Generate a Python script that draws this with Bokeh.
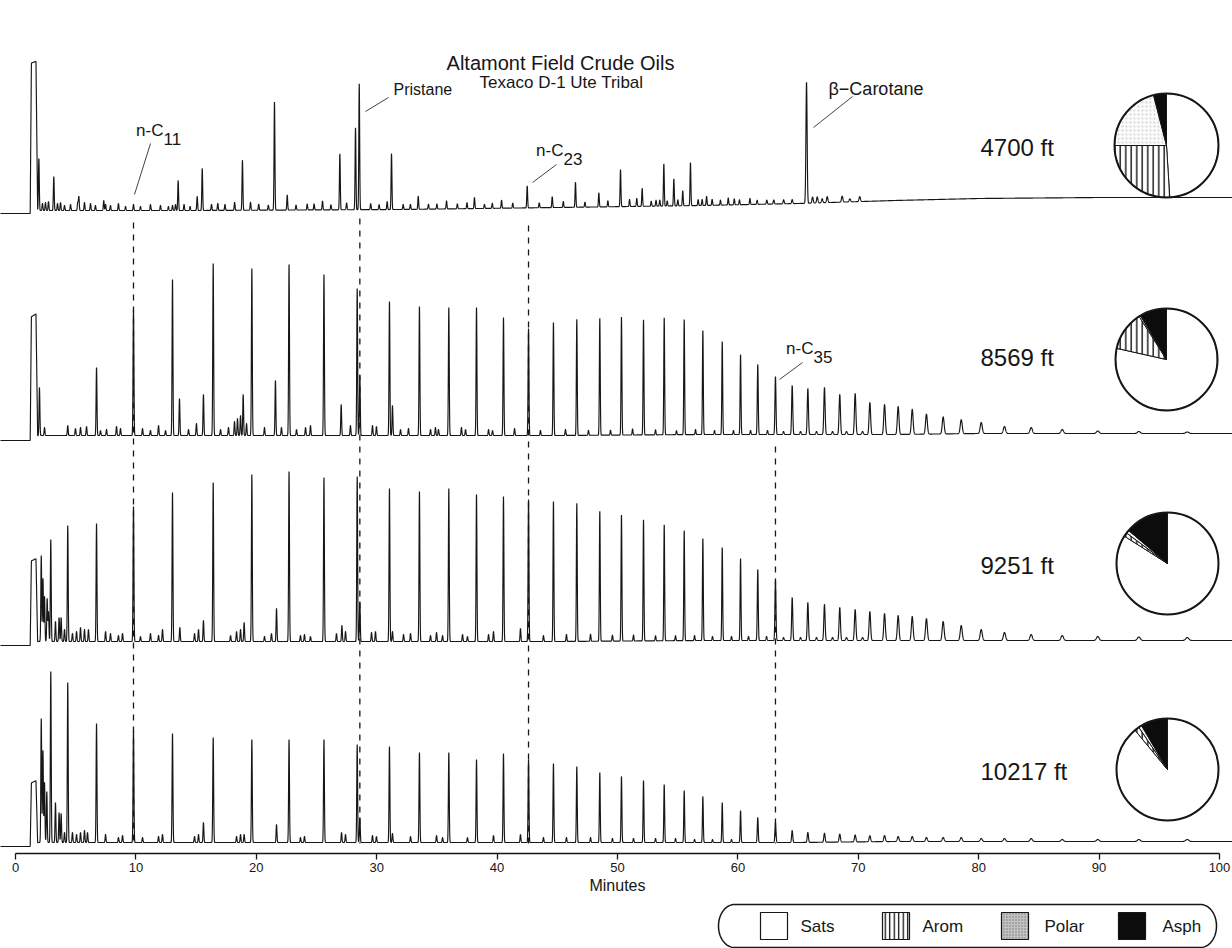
import numpy as np
from bokeh.plotting import figure
from bokeh.models import Range1d, LinearAxis, FixedTicker
from bokeh.core.properties import value
from bokeh.embed import file_html
from bokeh.resources import INLINE

# ======================= DATA =======================
title_text = "Altamont Field Crude Oils"
subtitle_text = "Texaco D-1 Ute Tribal"
depth_labels = ["4700 ft", "8569 ft", "9251 ft", "10217 ft"]
sara_names = ["Sats", "Arom", "Polar", "Asph"]
sara_4700 = [49.0, 26.0, 21.0, 4.0]
sara_8569 = [78.5, 12.5, 0.5, 8.5]
sara_9251 = [84.0, 1.2, 1.0, 13.8]
sara_10217 = [89.0, 1.5, 1.0, 8.5]
x_ticks = [0, 10, 20, 30, 40, 50, 60, 70, 80, 90, 100]

# n-alkane retention times (minutes), n-C9 ... n-C54
alkane_carbon = list(range(9, 55))
alkane_rt = [4.34, 6.73, 9.80, 13.04, 16.42, 19.63, 22.72, 25.62, 28.38, 31.06,
             33.55, 35.99, 38.29, 40.53, 42.61, 44.68, 46.62, 48.53, 50.33, 52.16,
             53.88, 55.54, 57.09, 58.70, 60.22, 61.65, 63.12, 64.51, 65.81, 67.19,
             68.46, 69.74, 70.96, 72.18, 73.31, 74.48, 75.66, 77.05, 78.55, 80.21,
             82.14, 84.36, 86.94, 89.89, 93.30, 97.32]
alkane_h_8569 = [10, 68, 126, 156, 172, 167, 171, 161, 147, 134,
                 129, 128, 128, 118, 107, 113, 116, 117, 118, 115,
                 117, 115, 104, 93, 80, 70, 58, 49, 46, 47,
                 40, 41, 32, 30, 28, 25, 20, 17, 14, 11,
                 7, 6, 4, 2.5, 2, 1.5]
alkane_h_9251 = [116, 118, 135, 149, 159, 167, 170, 164, 165, 153,
                 150, 153, 147, 145, 142, 140, 138, 130, 126, 121,
                 116, 110, 102, 93, 82, 71, 60, 43, 38, 36,
                 33, 31, 29, 27, 25, 24, 22, 19, 15, 11,
                 8, 6, 5, 4, 3.5, 3]
alkane_h_10217 = [160, 119, 112, 109, 105, 103, 103, 103, 98, 96,
                  90, 90, 83, 89, 83, 79, 76, 70, 66, 62,
                  58, 52, 46, 40, 32, 25, 20, 12, 10, 9,
                  8, 7, 6, 6, 5, 5, 4, 4, 4, 3,
                  3, 3, 2, 2, 2, 2]

# 4700 ft: all resolved peaks (minutes, height)
rt_4700 = [1.94, 2.24, 2.49, 2.74, 3.18, 3.49, 3.74, 4.07, 4.57, 5.17,
           5.26, 5.73, 6.23, 6.64, 7.33, 7.48, 7.89, 8.55, 9.14, 9.80,
           10.38, 11.21, 12.04, 12.70, 13.04, 13.29, 13.51, 14.00, 14.50, 15.09,
           15.51, 16.28, 16.80, 17.40, 18.20, 18.85, 19.52, 20.20, 21.00, 21.51,
           22.57, 23.30, 24.23, 24.80, 25.50, 26.20, 26.94, 27.50, 28.24, 28.55,
           29.50, 30.20, 30.87, 31.23, 32.20, 32.80, 33.45, 34.30, 35.00, 35.80,
           36.70, 37.50, 38.12, 38.95, 39.60, 40.37, 41.30, 42.50, 43.50, 44.58,
           45.50, 46.51, 47.30, 48.45, 49.20, 50.25, 51.00, 51.60, 52.05, 52.80,
           53.20, 53.51, 53.85, 54.13, 54.68, 55.01, 55.42, 56.06, 56.70, 57.03,
           57.40, 57.86, 58.55, 59.20, 59.70, 60.13, 61.00, 61.60, 62.40, 62.98,
           63.80, 64.51, 65.70, 66.20, 66.59, 67.00, 67.42, 68.66, 69.30, 70.12]
h_4700 = [52, 7, 8, 9, 34, 7, 8, 5, 6, 8,
          14, 8, 7, 5, 10, 6, 5, 7, 4, 6,
          4, 6, 5, 4, 5, 6, 30, 6, 4, 14,
          42, 6, 7, 6, 8, 50, 8, 6, 5, 108,
          15, 5, 6, 6, 9, 5, 56, 7, 82, 126,
          6, 5, 8, 56, 5, 5, 13, 5, 5, 8,
          5, 6, 11, 4, 5, 8, 5, 22, 5, 11,
          6, 25, 5, 14, 6, 37, 7, 8, 18, 5,
          6, 6, 42, 5, 27, 6, 15, 43, 6, 6,
          9, 6, 5, 7, 6, 5, 6, 4, 4, 4,
          4, 4, 121, 6, 6, 4, 6, 6, 3, 5]

# non-alkane peaks of the deeper oils (minutes, height)
extra_rt_8569 = [1.99, 2.41, 4.98, 5.40, 5.90, 7.06, 7.56, 8.39, 8.72, 10.55,
                 11.21, 11.88, 12.46, 13.62, 14.37, 15.03, 15.61, 17.03, 17.69, 18.19,
                 18.44, 18.69, 18.91, 19.19, 20.68, 21.59, 22.09, 23.34, 24.09, 24.50,
                 27.05, 27.82, 28.60, 29.65, 29.98, 31.31, 31.98, 32.64, 34.47, 34.88,
                 35.13, 37.04, 37.38, 39.29, 39.62, 41.45, 43.60, 45.68, 47.59, 49.42,
                 51.25, 53.16, 54.90, 56.48, 58.06, 59.63, 61.05, 62.46, 63.79, 65.20,
                 66.53, 67.86, 69.02, 70.35]
extra_h_8569 = [48, 8, 7, 8, 9, 5, 6, 9, 7, 7,
                5, 10, 5, 37, 6, 12, 41, 6, 8, 14,
                17, 20, 41, 12, 8, 55, 8, 6, 8, 10,
                31, 10, 60, 10, 9, 30, 6, 7, 6, 8,
                6, 8, 6, 6, 5, 7, 5, 6, 5, 5,
                6, 5, 4, 5, 4, 4, 4, 4, 3, 3,
                3, 3, 3, 3]
extra_rt_9251 = [2.14, 2.28, 2.41, 2.63, 2.74, 2.93, 3.32, 3.62, 3.79, 4.07,
                 4.73, 5.07, 5.40, 5.73, 6.06, 7.48, 7.89, 8.55, 8.89, 10.38,
                 11.21, 11.88, 12.21, 13.65, 14.87, 15.20, 15.61, 17.86, 18.36, 18.69,
                 18.99, 20.68, 21.26, 21.68, 23.67, 24.00, 24.50, 26.66, 27.11, 27.41,
                 28.60, 29.57, 29.90, 31.31, 32.23, 32.81, 34.47, 34.97, 35.47, 37.13,
                 37.54, 39.29, 39.70, 41.94, 43.85, 45.76, 47.76, 49.58, 51.33, 53.16,
                 54.82, 56.40, 57.89, 59.47, 60.88, 62.38, 63.79, 65.20, 66.53, 67.86,
                 69.02, 70.35]
extra_h_9251 = [86, 63, 45, 43, 30, 102, 20, 24, 24, 12,
                8, 10, 14, 12, 12, 10, 8, 6, 8, 5,
                8, 6, 12, 14, 8, 12, 21, 6, 10, 12,
                19, 5, 8, 33, 6, 7, 5, 8, 16, 10,
                40, 9, 10, 10, 7, 8, 6, 9, 6, 7,
                5, 7, 10, 13, 6, 7, 7, 6, 6, 5,
                5, 5, 4, 4, 4, 4, 3, 3, 3, 3,
                3, 3]
extra_rt_10217 = [2.14, 2.28, 2.41, 2.60, 2.93, 3.32, 3.62, 3.79, 4.07, 4.73,
                  5.07, 5.40, 5.73, 5.98, 7.48, 8.55, 8.89, 10.55, 11.88, 12.21,
                  14.87, 15.20, 15.61, 18.36, 18.69, 18.99, 21.68, 23.67, 24.00, 27.08,
                  27.41, 28.60, 29.65, 29.98, 31.31, 32.81, 34.97, 35.47, 37.54, 39.70,
                  41.94, 43.85, 45.76, 47.76, 49.58, 51.33, 53.16, 54.82, 56.40, 57.89,
                  59.47]
extra_h_10217 = [124, 92, 60, 51, 171, 40, 30, 29, 10, 10,
                 8, 10, 12, 10, 8, 5, 7, 5, 6, 8,
                 6, 8, 20, 6, 8, 8, 18, 5, 6, 10,
                 8, 25, 7, 6, 9, 6, 7, 5, 5, 7,
                 8, 5, 5, 5, 4, 4, 4, 4, 3, 3,
                 3]

# solvent (flat-topped) peak height for each oil
solvent_h = [150, 123, 84, 63]
# baseline drift of each trace (minutes, rise)
drift_rt = [-1.3, 1.22, 1.9, 15, 32, 45, 57, 65, 73, 80, 90, 101.3]
drift_4700 = [0, 0, 3, 3, 4, 6, 8, 10, 13, 15, 16, 16]
drift_8569 = [0, 0, 5, 5, 5, 5, 6, 6, 6, 7, 7, 7]
drift_9251 = [0, 0, 4, 4, 4, 4, 5, 5, 5, 5, 5, 5]
drift_10217 = [0, 0, 4, 4, 4, 4, 4, 4, 5, 5, 5, 5]

# marked compounds
marker_names = ["n-C11", "Pristane", "n-C23", "n-C35"]
marker_rt = [9.80, 28.60, 42.61, 63.12]

# ======================= LAYOUT =======================
W, H = 1232, 948
X0, PPM = 15.0, 12.04          # pixel of t=0, pixels per minute


def X(px):
    return (px - X0) / PPM


def Y(py):
    return H - py


FONT = value("Liberation Sans")
INK = "#161616"

p = figure(width=W, height=H, output_backend="svg", toolbar_location=None,
           x_range=Range1d(X(0), X(W)), y_range=Range1d(0, H),
           x_axis_type=None, y_axis_type=None, min_border=0)
p.outline_line_color = None
p.background_fill_color = "white"
p.border_fill_color = "white"

trace_origin_px = [213, 440, 645, 846]   # pre-solvent level of each trace

grid = np.arange(-1.3, 101.3, 0.008)


def build_trace(origin_px, drift, sol_h, rts, hs):
    rts = np.asarray(rts, float)
    hs = np.asarray(hs, float)
    t = np.unique(np.concatenate([grid, rts]))
    y = np.interp(t, drift_rt, drift)
    y = y + np.interp(t, [1.22, 1.32, 1.70, 1.84], [0, sol_h, sol_h, 0], left=0, right=0)
    for ti, hi in zip(rts, hs):
        s = 0.035 + 0.0025 * max(0.0, ti - 60.0)
        m = np.abs(t - ti) < 6 * s
        y[m] += hi * np.exp(-0.5 * ((t[m] - ti) / s) ** 2)
    return t, Y(origin_px) + y


traces = [
    (drift_4700, solvent_h[0], rt_4700, h_4700),
    (drift_8569, solvent_h[1], alkane_rt + extra_rt_8569, alkane_h_8569 + extra_h_8569),
    (drift_9251, solvent_h[2], alkane_rt + extra_rt_9251, alkane_h_9251 + extra_h_9251),
    (drift_10217, solvent_h[3], alkane_rt + extra_rt_10217, alkane_h_10217 + extra_h_10217),
]
for origin, (dr, sh, rts, hs) in zip(trace_origin_px, traces):
    tx, ty = build_trace(origin, dr, sh, rts, hs)
    p.line(tx, ty, line_color=INK, line_width=1.15)

# dashed marker lines
dash_top_px = [222, 218, 225, 446]
dash_bottom_px = 843
p.segment(x0=marker_rt, y0=[Y(v) for v in dash_top_px], x1=marker_rt,
          y1=[Y(dash_bottom_px)] * 4, line_color=INK, line_width=1.3, line_dash="6 6")

# leader lines (pixel layout)
lead = [((150, 143), (134, 194)),   # n-C11
        ((388, 97), (365, 111)),    # Pristane
        ((556, 164), (532, 182)),   # n-C23
        ((852, 96), (813, 127)),    # beta-carotane
        ((802, 362), (779, 379))]   # n-C35
p.segment(x0=[X(a[0]) for a, b in lead], y0=[Y(a[1]) for a, b in lead],
          x1=[X(b[0]) for a, b in lead], y1=[Y(b[1]) for a, b in lead],
          line_color="#444444", line_width=1)

# peak labels
p.text(x=[X(393)], y=[Y(89)], text=["Pristane"],
       text_font=FONT, text_font_size="16px", text_color=INK,
       text_align="left", text_baseline="middle")
p.text(x=[X(828)], y=[Y(88)], text=["β−Carotane"],
       text_font=FONT, text_font_size="18px", text_color=INK,
       text_align="left", text_baseline="middle")
sub_x = [163, 563, 813]
main_y = [130, 150, 348]
p.text(x=[X(v) for v in sub_x], y=[Y(v) for v in main_y], text=["n-C", "n-C", "n-C"],
       text_font=FONT, text_font_size="17px", text_color=INK,
       text_align="right", text_baseline="middle")
p.text(x=[X(v) for v in sub_x], y=[Y(v + 8) for v in main_y], text=["11", "23", "35"],
       text_font=FONT, text_font_size="17px", text_color=INK,
       text_align="left", text_baseline="middle")

# titles
p.text(x=[X(560)], y=[Y(62)], text=[title_text], text_font=FONT, text_font_size="20px",
       text_color=INK, text_align="center", text_baseline="middle")
p.text(x=[X(561)], y=[Y(82)], text=[subtitle_text], text_font=FONT, text_font_size="17px",
       text_color=INK, text_align="center", text_baseline="middle")

# depth labels
depth_y = [147, 357, 565, 771]
p.text(x=[X(980)] * 4, y=[Y(v) for v in depth_y], text=depth_labels, text_font=FONT,
       text_font_size="24px", text_color=INK, text_align="left", text_baseline="middle")

# SARA pies
styles = {
    "Sats": dict(fill_color="white"),
    "Arom": dict(fill_color="white", hatch_pattern="vertical_line", hatch_color="black",
                 hatch_scale=5.5, hatch_weight=1.3),
    "Polar": dict(fill_color="#fbfbfb", hatch_pattern="dot", hatch_color="#a0a0a0",
                  hatch_scale=4, hatch_weight=1, hatch_alpha=0.45),
    "Asph": dict(fill_color="#0c0c0c"),
}
pie_centers = [(1166, 145), (1166, 359), (1167, 563), (1167, 769)]
pie_r = [52, 51, 51, 51]
for (cx, cy), r, comp in zip(pie_centers, pie_r, [sara_4700, sara_8569, sara_9251, sara_10217]):
    cum = np.concatenate([[0.0], np.cumsum(comp)]) / sum(comp) * 2 * np.pi
    for k, name in enumerate(sara_names):
        p.wedge(x=X(cx), y=Y(cy), radius=r, radius_units="screen",
                start_angle=np.pi / 2 - cum[k], end_angle=np.pi / 2 - cum[k + 1],
                direction="clock", line_color=INK, line_width=1, **styles[name])
    p.circle(x=X(cx), y=Y(cy), radius=r, radius_units="screen", fill_color=None,
             line_color=INK, line_width=2)

# x axis
axis_px = 853
xaxis = LinearAxis(fixed_location=Y(axis_px), bounds=(0, 100),
                   ticker=FixedTicker(ticks=x_ticks), axis_label="Minutes")
xaxis.axis_line_color = INK
xaxis.axis_line_width = 1.5
xaxis.major_tick_line_color = INK
xaxis.major_tick_line_width = 1.3
xaxis.major_tick_out = 6
xaxis.major_tick_in = 0
xaxis.minor_tick_line_color = None
xaxis.major_label_text_font = "Liberation Sans"
xaxis.major_label_text_font_size = "13px"
xaxis.major_label_text_color = INK
xaxis.major_label_standoff = 3
xaxis.axis_label_text_font = "Liberation Sans"
xaxis.axis_label_text_font_size = "16px"
xaxis.axis_label_text_font_style = "normal"
xaxis.axis_label_text_color = INK
xaxis.axis_label_standoff = 2
p.add_layout(xaxis, "below")

# legend (stadium box)
L_L, L_R, L_T, L_B = 718, 1216, 904, 947
rx = 16.0
ry = (L_B - L_T) / 2.0
cym = (L_T + L_B) / 2.0
a1 = np.linspace(np.pi / 2, 3 * np.pi / 2, 40)
a2 = np.linspace(3 * np.pi / 2, 5 * np.pi / 2, 40)
sx = np.concatenate([(L_L + rx) + rx * np.cos(a1), (L_R - rx) + rx * np.cos(a2), [L_L + rx]])
sy = np.concatenate([cym - ry * np.sin(a1), cym - ry * np.sin(a2), [L_T]])
p.line(X(sx), Y(sy), line_color=INK, line_width=1.5)

sw_left = [760, 882, 1001, 1118]
sw_w, sw_top, sw_bot = 27, 912, 939
sw_styles = [
    dict(fill_color="white"),
    dict(fill_color="white", hatch_pattern="vertical_line", hatch_color="black",
         hatch_scale=4.5, hatch_weight=1.2),
    dict(fill_color="#c2c2c2", hatch_pattern="dot", hatch_color="#7a7a7a",
         hatch_scale=3, hatch_weight=1),
    dict(fill_color="#0c0c0c"),
]
for lx, st in zip(sw_left, sw_styles):
    p.quad(left=X(lx), right=X(lx + sw_w), top=Y(sw_top), bottom=Y(sw_bot),
           line_color=INK, line_width=1.2, **st)
p.text(x=[X(v) for v in [800, 922, 1044, 1162]], y=[Y(926)] * 4, text=sara_names,
       text_font=FONT, text_font_size="17px", text_color=INK,
       text_align="left", text_baseline="middle")

open("out.html", "w").write(file_html(p, INLINE))
